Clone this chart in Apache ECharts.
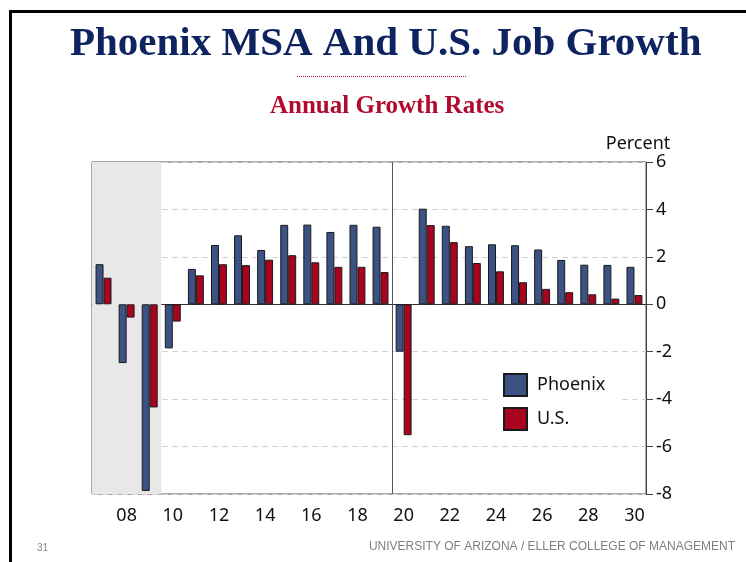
<!DOCTYPE html>
<html>
<head>
    <meta charset="utf-8">
    <script src="https://cdn.jsdelivr.net/npm/echarts@6/dist/echarts.min.js"></script>
    <style>
        * { padding: 0; margin: 0 }
        body, html { height: 100%; width: 100%; background: #fff; overflow: hidden }
        #container { position: absolute; left: 0; top: 0; width: 746px; height: 562px }
        #frame {
            position: absolute; left: 9px; top: 10px; width: 800px; height: 600px;
            border-left: 3px solid #000; border-top: 3px solid #000
        }
    </style>
</head>
<body>
    <div id="frame"></div>
    <div id="container"></div>
</body>
<script>
    // annual growth rates, percent
    const years = ['07', '08', '09', '10', '11', '12', '13', '14', '15', '16', '17', '18',
        '19', '20', '21', '22', '23', '24', '25', '26', '27', '28', '29', '30'];
    const phoenix = [1.69, -2.48, -7.87, -1.86, 1.49, 2.50, 2.91, 2.29, 3.35, 3.36, 3.05, 3.35,
        3.27, -2.00, 4.03, 3.31, 2.45, 2.53, 2.49, 2.31, 1.87, 1.67, 1.66, 1.58];
    const us = [1.12, -0.56, -4.35, -0.73, 1.22, 1.69, 1.65, 1.88, 2.07, 1.77, 1.58, 1.58,
        1.36, -5.52, 3.34, 2.62, 1.74, 1.39, 0.93, 0.65, 0.51, 0.42, 0.24, 0.39];
    // recession shading and forecast divider, in years (band edges)
    const recession = [2006.5, 2009.5];
    const forecastStart = 2019.5;

    const blue = '#3b5283';
    const red = '#a8031f';
    const axisFont = 'Noto Sans';
    const axisSize = 18;

    const container = document.getElementById('container');
    let myChart = echarts.init(container);

    let option = {
        animation: false,
        title: [{
            text: 'Phoenix MSA And U.S. Job Growth',
            left: 65, top: 19,
            textStyle: { fontFamily: 'Liberation Serif', fontWeight: 'bold', fontSize: 41, color: '#0e2461' }
        }, {
            text: 'Annual Growth Rates',
            left: 265, top: 89,
            textStyle: { fontFamily: 'Liberation Serif', fontWeight: 'bold', fontSize: 25, color: '#b10a2f' }
        }, {
            text: '31',
            left: 32, top: 538,
            textStyle: { fontFamily: 'Liberation Sans', fontWeight: 'normal', fontSize: 10, color: '#8a8a8a' }
        }, {
            text: 'UNIVERSITY OF ARIZONA / ELLER COLLEGE OF MANAGEMENT',
            right: 6, top: 536,
            textStyle: { fontFamily: 'Liberation Sans', fontWeight: 'normal', fontSize: 12, color: '#7f7f7f' }
        }],
        graphic: [{
            type: 'line',
            shape: { x1: 297, y1: 76.5, x2: 467, y2: 76.5 },
            style: { stroke: '#c0102e', lineWidth: 1, lineDash: [1, 1] }
        }],
        legend: {
            data: ['Phoenix', 'U.S.'],
            orient: 'vertical',
            left: 490, top: 365,
            padding: [8, 15, 8, 13],
            itemWidth: 23, itemHeight: 22, itemGap: 10,
            icon: 'rect',
            backgroundColor: '#fff',
            textStyle: { fontFamily: axisFont, fontSize: axisSize, color: '#111', padding: [0, 0, 0, 5] }
        },
        grid: {
            left: 92, right: 100, top: 162, bottom: 68,
            show: true, borderColor: '#555', borderWidth: 1
        },
        xAxis: [{
            type: 'category',
            data: years,
            boundaryGap: true,
            axisLine: { lineStyle: { color: '#333' } },
            axisTick: { interval: 0, length: 6, lineStyle: { color: '#333' } },
            axisLabel: {
                interval: (idx, val) => parseInt(val, 10) % 2 === 0,
                margin: 13,
                fontFamily: axisFont, fontSize: axisSize, color: '#111'
            },
            splitLine: { show: false }
        }, {
            type: 'value',
            min: 2006.5, max: 2030.5,
            show: false
        }],
        yAxis: {
            type: 'value',
            position: 'right',
            min: -8, max: 6, interval: 2,
            name: 'Percent',
            nameLocation: 'end',
            nameGap: 8,
            nameTextStyle: { fontFamily: axisFont, fontSize: axisSize, color: '#111', padding: [0, 16, 0, 0] },
            axisLine: { show: true, lineStyle: { color: '#444' } },
            axisTick: { show: true, length: 7, lineStyle: { color: '#444' } },
            axisLabel: { margin: 10, fontFamily: axisFont, fontSize: axisSize, color: '#111' },
            splitLine: { lineStyle: { color: '#d4d4d4', type: [6, 4] } }
        },
        series: [{
            name: 'shade',
            type: 'line',
            xAxisIndex: 1,
            data: [],
            z: 1,
            silent: true,
            markArea: {
                silent: true,
                itemStyle: { color: '#e8e8e8' },
                data: [[{ xAxis: recession[0] }, { xAxis: recession[1] }]]
            },
            markLine: {
                silent: true,
                symbol: ['none', 'none'],
                label: { show: false },
                lineStyle: { color: '#555', type: 'solid', width: 1 },
                data: [{ xAxis: forecastStart }]
            }
        }, {
            name: 'Phoenix',
            type: 'bar',
            data: phoenix,
            z: 3,
            barGap: '0%',
            barCategoryGap: '31%',
            itemStyle: { color: blue, borderColor: '#1a1a1a', borderWidth: 1 }
        }, {
            name: 'U.S.',
            type: 'bar',
            data: us,
            z: 3,
            itemStyle: { color: red, borderColor: '#1a1a1a', borderWidth: 1 }
        }]
    };

    myChart.setOption(option);
</script>
</html>
